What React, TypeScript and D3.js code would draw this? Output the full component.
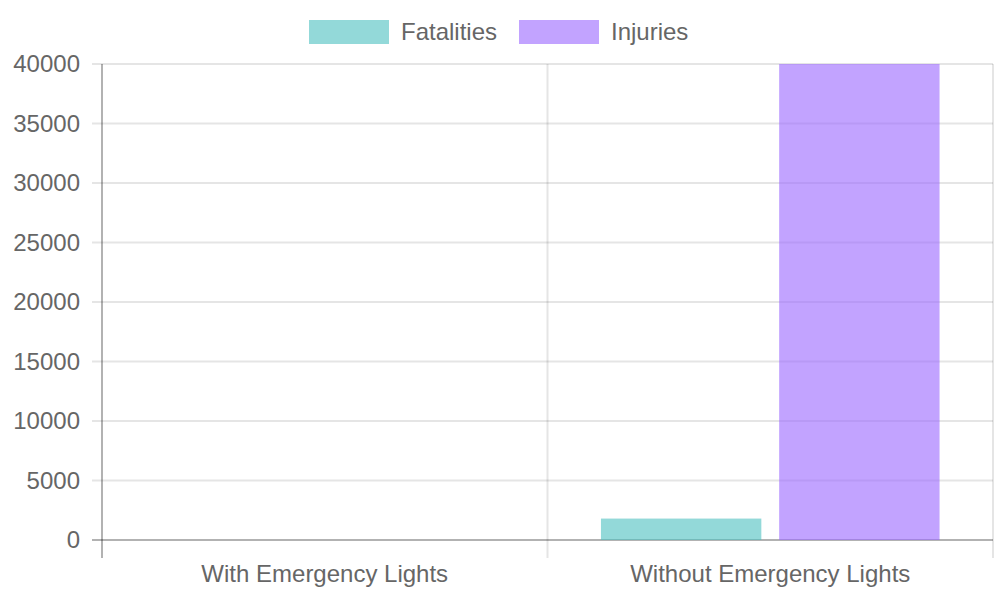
import { useEffect, useRef } from 'react'
import * as d3 from 'd3'

const categories = ['With Emergency Lights', 'Without Emergency Lights']
const seriesNames = ['Fatalities', 'Injuries']
const fatalities = [0, 1800]
const injuries = [0, 40000]
const yTicks = [0, 5000, 10000, 15000, 20000, 25000, 30000, 35000, 40000]

const colors = ['rgba(75,192,192,0.6)', 'rgba(153,102,255,0.6)']
const font = '"Liberation Sans", Arial, sans-serif'

const App = () => {
  const ref = useRef<SVGSVGElement>(null)

  useEffect(() => {
    const svg = d3.select(ref.current)
    svg.selectAll('*').remove()
    const width = 1000
    const height = 600
    const margin = { top: 64, right: 7, bottom: 60, left: 102 }

    const x = d3
      .scaleBand()
      .domain(categories)
      .range([margin.left, width - margin.right])
      .paddingInner(0)
      .paddingOuter(0)

    const inner = d3
      .scaleBand()
      .domain(seriesNames)
      .range([0, x.bandwidth() * 0.8])
      .paddingInner(0.1)
      .paddingOuter(0.05)

    const y = d3.scaleLinear().domain([0, 40000]).range([height - margin.bottom, margin.top])

    // horizontal grid
    const grid = svg.append('g')
    grid
      .selectAll('line.h')
      .data(yTicks)
      .join('line')
      .attr('x1', margin.left - 10)
      .attr('x2', width - margin.right)
      .attr('y1', (d) => y(d))
      .attr('y2', (d) => y(d))
      .attr('stroke', (d) => (d === 0 ? 'rgba(0,0,0,0.3)' : 'rgba(0,0,0,0.1)'))
      .attr('stroke-width', 2)

    // vertical grid
    const vx = [margin.left, margin.left + x.bandwidth(), width - margin.right]
    grid
      .selectAll('line.v')
      .data(vx)
      .join('line')
      .attr('x1', (d) => d)
      .attr('x2', (d) => d)
      .attr('y1', margin.top)
      .attr('y2', height - margin.bottom + 18)
      .attr('stroke', (d, i) => (i === 0 ? 'rgba(0,0,0,0.3)' : 'rgba(0,0,0,0.1)'))
      .attr('stroke-width', 2)

    const data = categories.map((c, i) => ({ cat: c, vals: [fatalities[i], injuries[i]] }))

    const groups = svg
      .append('g')
      .selectAll('g')
      .data(data)
      .join('g')
      .attr('transform', (d) => `translate(${x(d.cat)! + x.bandwidth() * 0.1},0)`)

    groups
      .selectAll('rect')
      .data((d) => d.vals.map((v, i) => ({ name: seriesNames[i], v, i })))
      .join('rect')
      .attr('x', (d) => inner(d.name)!)
      .attr('width', inner.bandwidth())
      .attr('y', (d) => y(d.v))
      .attr('height', (d) => y(0) - y(d.v))
      .attr('fill', (d) => colors[d.i])

    // y labels
    svg
      .append('g')
      .selectAll('text')
      .data(yTicks)
      .join('text')
      .attr('x', margin.left - 22)
      .attr('y', (d) => y(d))
      .attr('dy', '0.35em')
      .attr('text-anchor', 'end')
      .attr('fill', '#666')
      .style('font-family', font)
      .style('font-size', '24px')
      .text((d) => String(d))

    // x labels
    svg
      .append('g')
      .selectAll('text')
      .data(categories)
      .join('text')
      .attr('x', (d) => x(d)! + x.bandwidth() / 2)
      .attr('y', height - margin.bottom + 34)
      .attr('dy', '0.35em')
      .attr('text-anchor', 'middle')
      .attr('fill', '#666')
      .style('font-family', font)
      .style('font-size', '24px')
      .text((d) => d)

    // legend
    const legend = svg.append('g')
    const items = [
      { name: 'Fatalities', x: 309, color: colors[0] },
      { name: 'Injuries', x: 519, color: colors[1] },
    ]
    items.forEach((it) => {
      legend
        .append('rect')
        .attr('x', it.x)
        .attr('y', 20)
        .attr('width', 80)
        .attr('height', 24)
        .attr('fill', it.color)
      legend
        .append('text')
        .attr('x', it.x + 92)
        .attr('y', 32)
        .attr('dy', '0.35em')
        .attr('fill', '#666')
        .style('font-family', font)
        .style('font-size', '24px')
        .text(it.name)
    })
  }, [])

  return (
    <svg
      ref={ref}
      width={1000}
      height={600}
      style={{ position: 'absolute', left: 0, top: 0, background: '#fff' }}
    />
  )
}

export default App
